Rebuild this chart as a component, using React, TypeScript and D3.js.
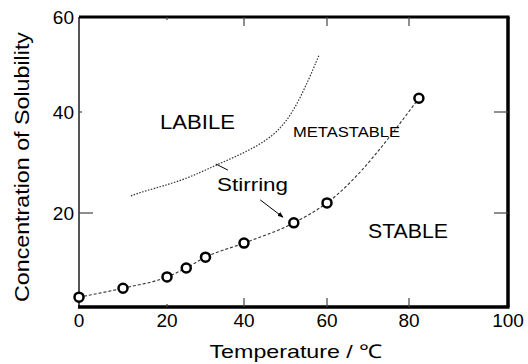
import React, { useEffect, useRef } from "react";
import * as d3 from "d3";

// solubility curve (open circles)
const temps = [0, 10, 20, 25, 30, 40, 52, 60, 82];
const solubility = [2.1, 4.0, 6.4, 8.3, 10.6, 13.6, 17.9, 22.0, 42.9];

// metastable limit (dotted)
const metaTemps = [11.8, 14.3, 24.5, 32.7, 40.7, 48.4, 53.3, 58.1];
const metaConc = [23.4, 24.2, 26.5, 29.5, 32.1, 35.8, 42.1, 52];

const xTicks = [0, 20, 40, 60, 80, 100];
const yTicks = [20, 40, 60];

const regions = [
  { text: "LABILE", t: 18.4, c: 36.6, size: 20, len: 75 },
  { text: "METASTABLE", t: 51.8, c: 35.0, size: 14, len: 107 },
  { text: "STABLE", t: 70, c: 14.7, size: 20, len: 80 },
  { text: "Stirring", t: 33, c: 24.4, size: 18, len: 71 },
];

const W = 528, H = 364;

const App = () => {
  const svgRef = useRef<SVGSVGElement>(null);

  useEffect(() => {
    const svg = d3.select(svgRef.current);
    svg.selectAll("*").remove();
    const font = "'Liberation Sans', Arial, sans-serif";

    // the scanned axes are not quite even, so follow the tick positions
    const x = d3.scaleLinear().domain(xTicks).range([79, 167, 244, 327, 409, 508]);
    const y = d3.scaleLinear().domain([0, 20, 40, 60]).range([307, 213, 112, 17]);

    svg.append("defs").append("marker")
      .attr("id", "arr")
      .attr("viewBox", "0 0 10 10")
      .attr("refX", 9).attr("refY", 5)
      .attr("markerWidth", 6).attr("markerHeight", 6)
      .attr("orient", "auto")
      .append("path").attr("d", "M0,1L10,5L0,9z").attr("fill", "#000");

    // frame
    svg.append("line").attr("x1", x(0)).attr("x2", x(0)).attr("y1", y(60)).attr("y2", y(0))
      .attr("stroke", "#555").attr("stroke-width", 2);
    svg.append("line").attr("x1", x(0)).attr("x2", x(100) + 1.5).attr("y1", y(60)).attr("y2", y(60))
      .attr("stroke", "#000").attr("stroke-width", 3);
    svg.append("line").attr("x1", x(0) - 1).attr("x2", x(100) + 1.5).attr("y1", y(0)).attr("y2", y(0))
      .attr("stroke", "#000").attr("stroke-width", 3.5);
    svg.append("line").attr("x1", x(100)).attr("x2", x(100)).attr("y1", y(60)).attr("y2", y(0))
      .attr("stroke", "#000").attr("stroke-width", 3.5);

    // inward ticks
    const inner = xTicks.slice(1, -1);
    inner.forEach(t => {
      const len = t === 20 ? 3 : 9;
      svg.append("line").attr("x1", x(t)).attr("x2", x(t)).attr("y1", y(0)).attr("y2", y(0) - len)
        .attr("stroke", "#444").attr("stroke-width", 1.2);
      svg.append("line").attr("x1", x(t)).attr("x2", x(t)).attr("y1", y(60)).attr("y2", y(60) + len)
        .attr("stroke", "#444").attr("stroke-width", 1.2);
    });
    [20, 40].forEach(t => {
      const len = t === 20 ? 14 : 3;
      svg.append("line").attr("x1", x(0)).attr("x2", x(0) + len).attr("y1", y(t)).attr("y2", y(t))
        .attr("stroke", "#444").attr("stroke-width", 1.2);
      svg.append("line").attr("x1", x(100)).attr("x2", x(100) - 14).attr("y1", y(t)).attr("y2", y(t))
        .attr("stroke", "#444").attr("stroke-width", 1.2);
    });

    // tick labels
    svg.append("g").selectAll("text").data(xTicks).enter().append("text")
      .attr("x", d => x(d)).attr("y", 327)
      .attr("text-anchor", "middle")
      .style("font-family", font).style("font-size", "19px")
      .text(d => d);
    svg.append("g").selectAll("text").data(yTicks).enter().append("text")
      .attr("x", 74).attr("y", d => y(d) + 7)
      .attr("text-anchor", "end")
      .style("font-family", font).style("font-size", "19px")
      .text(d => d);

    // axis titles
    svg.append("text")
      .attr("x", 296).attr("y", 358)
      .attr("text-anchor", "middle")
      .attr("textLength", 173).attr("lengthAdjust", "spacingAndGlyphs")
      .style("font-family", font).style("font-size", "19px")
      .text("Temperature / \u2103");
    svg.append("text")
      .attr("transform", "translate(29,167) rotate(-90)")
      .attr("text-anchor", "middle")
      .attr("textLength", 270).attr("lengthAdjust", "spacingAndGlyphs")
      .style("font-family", font).style("font-size", "20px")
      .text("Concentration of Solubility");

    // metastable limit
    const toPts = (xs: number[], ys: number[]) => xs.map((t, i) => [t, ys[i]] as [number, number]);
    const spline = d3.line<[number, number]>()
      .x(d => x(d[0])).y(d => y(d[1]))
      .curve(d3.curveBasis);
    svg.append("path")
      .attr("d", spline(toPts(metaTemps, metaConc)))
      .attr("fill", "none").attr("stroke", "#333").attr("stroke-width", 1.2)
      .attr("stroke-dasharray", "1.5 1.5");

    // solubility curve
    const smooth = d3.line<[number, number]>()
      .x(d => x(d[0])).y(d => y(d[1]))
      .curve(d3.curveMonotoneX);
    svg.append("path")
      .attr("d", smooth(toPts(temps, solubility)))
      .attr("fill", "none").attr("stroke", "#333").attr("stroke-width", 1.1)
      .attr("stroke-dasharray", "3 2");
    svg.append("g").selectAll("circle").data(temps).enter().append("circle")
      .attr("cx", d => x(d)).attr("cy", (d, i) => y(solubility[i]))
      .attr("r", 4.5)
      .attr("fill", "#fff").attr("stroke", "#000").attr("stroke-width", 2.5);

    // region labels
    svg.append("g").selectAll("text").data(regions).enter().append("text")
      .attr("x", d => x(d.t)).attr("y", d => y(d.c))
      .attr("textLength", d => d.len).attr("lengthAdjust", "spacingAndGlyphs")
      .style("font-family", font).style("font-size", d => d.size + "px")
      .text(d => d.text);

    // stirring pointers
    svg.append("line")
      .attr("x1", x(35.8)).attr("y1", y(28.5)).attr("x2", x(32.7)).attr("y2", y(29.7))
      .attr("stroke", "#000").attr("stroke-width", 1);
    svg.append("line")
      .attr("x1", x(43.9)).attr("y1", y(22.6)).attr("x2", x(49.4)).attr("y2", y(19.1))
      .attr("stroke", "#000").attr("stroke-width", 1)
      .attr("marker-end", "url(#arr)");
  }, []);

  return (
    <div style={{ position: "absolute", left: 0, top: 0 }}>
      <svg ref={svgRef} width={W} height={H} style={{ display: "block", background: "#fff" }}></svg>
    </div>
  );
};

export default App;
